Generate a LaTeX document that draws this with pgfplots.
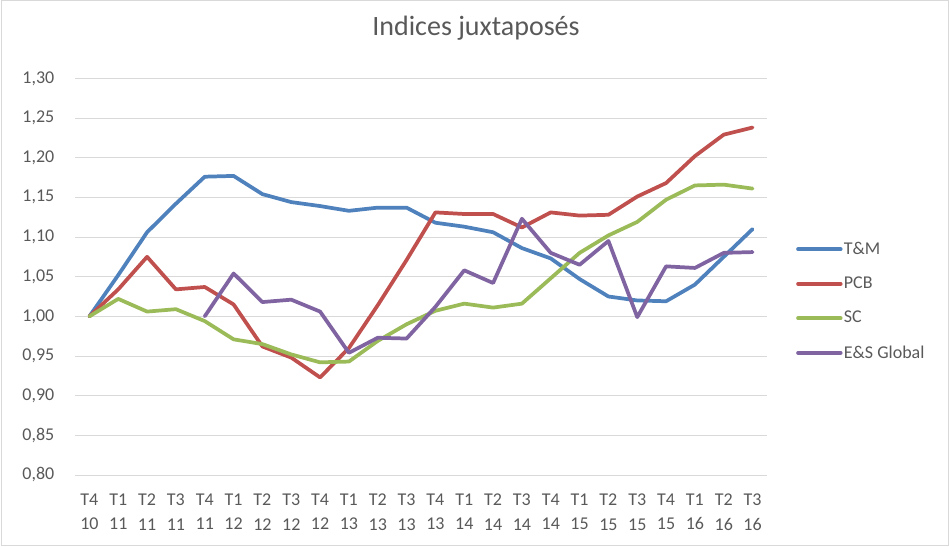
\documentclass[border=0pt]{standalone}
\usepackage{pgfplots}
\pgfplotsset{compat=1.18}
\usepackage{fontspec}
\setmainfont{Carlito}

\definecolor{tmblue}{RGB}{79,129,189}
\definecolor{pcbred}{RGB}{192,80,77}
\definecolor{scgreen}{RGB}{155,187,89}
\definecolor{espurple}{RGB}{128,100,162}
\definecolor{txtgray}{RGB}{89,89,89}
\definecolor{gridgray}{RGB}{217,217,217}

\begin{document}
\begin{tikzpicture}
  \useasboundingbox (0,0) rectangle (711.75pt,409.5pt);
  \draw[gridgray, line width=0.75pt] (1.2pt,0.6pt) rectangle (711.1pt,409.2pt);

  \begin{axis}[
    at={(56.25pt,53.25pt)}, anchor=south west,
    scale only axis,
    width=519pt, height=297.5pt,
    xmin=-0.5, xmax=23.5,
    ymin=0.8, ymax=1.3,
    ytick={0.8,0.85,...,1.31},
    xtick={0,...,23},
    xticklabels={{T4\\10},{T1\\11},{T2\\11},{T3\\11},{T4\\11},{T1\\12},{T2\\12},{T3\\12},
                 {T4\\12},{T1\\13},{T2\\13},{T3\\13},{T4\\13},{T1\\14},{T2\\14},{T3\\14},
                 {T4\\14},{T1\\15},{T2\\15},{T3\\15},{T4\\15},{T1\\16},{T2\\16},{T3\\16}},
    xticklabel style={align=center, font=\fontsize{13.5}{18.5}\selectfont, text=txtgray, yshift=-10.5pt},
    yticklabel style={font=\fontsize{13.5}{16}\selectfont, text=txtgray, xshift=-12pt,
      /pgf/number format/.cd, fixed, fixed zerofill, precision=2, use comma},
    /pgf/number format/assume math mode=true,
    major tick length=0pt,
    axis line style={draw=none},
    ymajorgrids,
    grid style={gridgray, line width=0.75pt},
    title={Indices juxtaposés},
    title style={at={(0.5795,1.088)}, anchor=base, font=\fontsize{21}{25}\selectfont, text=txtgray},
    legend style={at={(1.036,0.4386)}, anchor=west, draw=none, fill=none,
      font=\fontsize{13.5}{16}\selectfont, text=txtgray, row sep=13.5pt,
      nodes={inner sep=1pt}},
    legend cell align=left,
    legend image code/.code={\draw[#1] (0pt,0pt) -- (32pt,0pt);},
    every axis plot/.append style={line width=2.8pt, line join=round, line cap=round},
  ]

  \addplot[tmblue] coordinates {
    (0,1.000) (1,1.052) (2,1.106) (3,1.142) (4,1.176) (5,1.177) (6,1.154) (7,1.144)
    (8,1.139) (9,1.133) (10,1.137) (11,1.137) (12,1.118) (13,1.113) (14,1.106) (15,1.086)
    (16,1.073) (17,1.047) (18,1.025) (19,1.020) (20,1.019) (21,1.040) (22,1.075) (23,1.110)
  };
  \addlegendentry{T\&M}

  \addplot[pcbred] coordinates {
    (0,1.000) (1,1.034) (2,1.075) (3,1.034) (4,1.037) (5,1.015) (6,0.962) (7,0.948)
    (8,0.923) (9,0.960) (10,1.014) (11,1.071) (12,1.131) (13,1.129) (14,1.129) (15,1.112)
    (16,1.131) (17,1.127) (18,1.128) (19,1.151) (20,1.168) (21,1.202) (22,1.229) (23,1.238)
  };
  \addlegendentry{PCB}

  \addplot[scgreen] coordinates {
    (0,1.000) (1,1.022) (2,1.006) (3,1.009) (4,0.994) (5,0.971) (6,0.965) (7,0.952)
    (8,0.942) (9,0.943) (10,0.969) (11,0.990) (12,1.007) (13,1.016) (14,1.011) (15,1.016)
    (16,1.048) (17,1.080) (18,1.102) (19,1.119) (20,1.147) (21,1.165) (22,1.166) (23,1.161)
  };
  \addlegendentry{SC}

  \addplot[espurple] coordinates {
    (4,1.000) (5,1.054) (6,1.018) (7,1.021) (8,1.006) (9,0.954) (10,0.973) (11,0.972)
    (12,1.012) (13,1.058) (14,1.042) (15,1.123) (16,1.080) (17,1.065) (18,1.095) (19,0.999)
    (20,1.063) (21,1.061) (22,1.080) (23,1.081)
  };
  \addlegendentry{E\&S Global}

  \end{axis}
\end{tikzpicture}
\end{document}
